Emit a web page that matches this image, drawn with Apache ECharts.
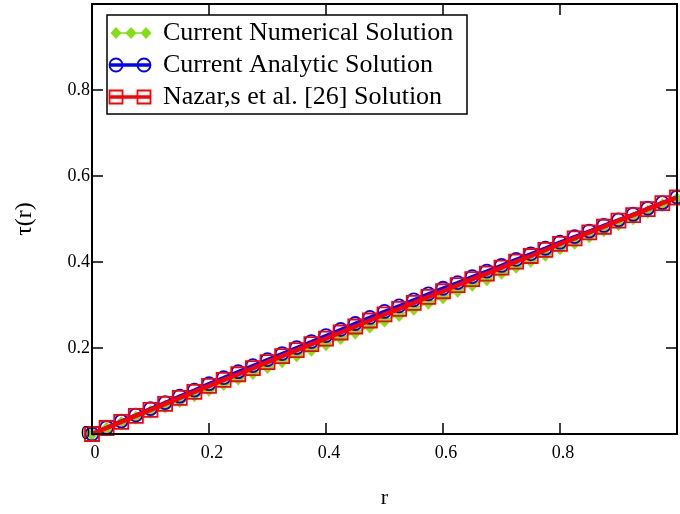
<!DOCTYPE html>
<html>
<head>
<meta charset="utf-8">
<title>τ(r)</title>
<script src="https://cdn.jsdelivr.net/npm/echarts@6/dist/echarts.min.js"></script>
<style>
  html, body { margin: 0; padding: 0; background: #fff; }
  #chart { width: 680px; height: 514px; }
</style>
</head>
<body>
<div id="chart"></div>
<script>
// Radial positions r (step 0.025)
const rValues = [0, 0.025, 0.05, 0.075, 0.1, 0.125, 0.15, 0.175, 0.2, 0.225, 0.25, 0.275, 0.3, 0.325, 0.35, 0.375, 0.4, 0.425, 0.45, 0.475, 0.5, 0.525, 0.55, 0.575, 0.6, 0.625, 0.65, 0.675, 0.7, 0.725, 0.75, 0.775, 0.8, 0.825, 0.85, 0.875, 0.9, 0.925, 0.95, 0.975, 1];

// τ(r) – current numerical solution
const numerical = [0, 0.012, 0.025, 0.038, 0.051, 0.064, 0.077, 0.090, 0.103, 0.116, 0.129, 0.142, 0.156, 0.169, 0.183, 0.196, 0.209, 0.223, 0.236, 0.250, 0.264, 0.277, 0.291, 0.305, 0.318, 0.333, 0.347, 0.360, 0.375, 0.389, 0.403, 0.417, 0.432, 0.445, 0.460, 0.474, 0.488, 0.502, 0.517, 0.532, 0.546];

// τ(r) – current analytic solution
const analytic = [0, 0.015, 0.030, 0.044, 0.059, 0.073, 0.088, 0.102, 0.117, 0.131, 0.145, 0.159, 0.173, 0.187, 0.201, 0.215, 0.229, 0.243, 0.257, 0.271, 0.285, 0.298, 0.312, 0.326, 0.339, 0.352, 0.366, 0.379, 0.392, 0.406, 0.419, 0.432, 0.446, 0.459, 0.472, 0.485, 0.498, 0.511, 0.525, 0.538, 0.551];

// τ(r) – Nazar's et al. [26] solution
const nazar = [0, 0.014, 0.028, 0.042, 0.056, 0.070, 0.084, 0.098, 0.112, 0.126, 0.139, 0.153, 0.167, 0.181, 0.195, 0.209, 0.222, 0.236, 0.250, 0.264, 0.278, 0.291, 0.305, 0.319, 0.332, 0.346, 0.360, 0.373, 0.387, 0.401, 0.414, 0.428, 0.442, 0.455, 0.469, 0.482, 0.496, 0.509, 0.523, 0.537, 0.550];

const seriesNames = ['Current Numerical Solution', 'Current Analytic Solution', 'Nazar,s et al. [26] Solution'];
const xTicks = [0, 0.2, 0.4, 0.6, 0.8];
const yTicks = [0, 0.2, 0.4, 0.6, 0.8];

const FONT = 'Liberation Serif';
const GREEN = '#80e010';
const BLUE = '#0000ff';
const RED = '#ff0000';

const pairs = (ys) => rValues.map((r, i) => [r, ys[i]]);
const tickFmt = (list) => (v) => {
  const hit = list.find(t => Math.abs(t - v) < 1e-9);
  return hit === undefined ? '' : String(+hit.toFixed(2));
};

const chart = echarts.init(document.getElementById('chart'), null, { renderer: 'canvas' });

const axisLine = { show: true, onZero: false, lineStyle: { color: '#000', width: 2 } };
const axisTick = { show: true, inside: true, length: 11, lineStyle: { color: '#000', width: 1.5 } };

// Legend box, drawn as graphic elements
const LX = 107, LY = 15, LW = 360, LH = 99;
const rows = [33, 65, 97];
const legendGraphics = [
  { type: 'rect', shape: { x: LX, y: LY, width: LW, height: LH },
    style: { fill: '#fff', stroke: '#000', lineWidth: 1.5 }, z: 100 },
  // numerical: three diamonds on a thin line
  { type: 'line', shape: { x1: 112, y1: rows[0], x2: 150, y2: rows[0] },
    style: { stroke: GREEN, lineWidth: 1.5 }, z: 101 },
  ...[116, 131, 146].map(cx => ({
    type: 'polygon',
    shape: { points: [[cx, rows[0] - 6], [cx + 5.5, rows[0]], [cx, rows[0] + 6], [cx - 5.5, rows[0]]] },
    style: { fill: GREEN }, z: 102
  })),
  // analytic: line with two circles
  { type: 'line', shape: { x1: 109, y1: rows[1], x2: 151, y2: rows[1] },
    style: { stroke: BLUE, lineWidth: 3.5 }, z: 101 },
  ...[116, 144].map(cx => ({
    type: 'circle', shape: { cx: cx, cy: rows[1], r: 6.5 },
    style: { fill: 'none', stroke: BLUE, lineWidth: 1.8 }, z: 102
  })),
  // Nazar: line with two squares
  { type: 'line', shape: { x1: 109, y1: rows[2], x2: 151, y2: rows[2] },
    style: { stroke: RED, lineWidth: 3.5 }, z: 101 },
  ...[116, 144].map(cx => ({
    type: 'rect', shape: { x: cx - 6.5, y: rows[2] - 6.5, width: 13, height: 13 },
    style: { fill: 'none', stroke: RED, lineWidth: 1.8 }, z: 102
  })),
  ...seriesNames.map((name, i) => ({
    type: 'text', x: 163, y: rows[i],
    style: { text: name, fill: '#000', font: '26px "' + FONT + '"', textVerticalAlign: 'middle', textAlign: 'left' },
    z: 102
  }))
];

const option = {
  backgroundColor: '#fff',
  animation: false,
  textStyle: { fontFamily: FONT },
  grid: { left: 92, right: 3, top: 4, bottom: 80, containLabel: false },
  xAxis: [
    {
      type: 'value', position: 'bottom', min: 0, max: 1, interval: 0.2, z: 10,
      name: 'r', nameLocation: 'middle', nameGap: 53,
      nameTextStyle: { fontFamily: FONT, fontSize: 22, color: '#000' },
      axisLine: axisLine, axisTick: axisTick, splitLine: { show: false },
      axisLabel: { show: true, margin: 10, color: '#000', fontFamily: FONT, fontSize: 18,
        showMaxLabel: false, padding: [0, 0, 0, 6], formatter: tickFmt(xTicks) }
    },
    {
      type: 'value', position: 'top', min: 0, max: 1, interval: 0.2, z: 10,
      axisLine: axisLine, axisTick: axisTick, splitLine: { show: false }, axisLabel: { show: false }
    }
  ],
  yAxis: [
    {
      type: 'value', position: 'left', min: 0, max: 1, interval: 0.2, z: 10,
      name: 'τ(r)', nameLocation: 'middle', nameGap: 55, nameRotate: 90,
      nameTextStyle: { fontFamily: FONT, fontSize: 24, color: '#000' },
      axisLine: axisLine, axisTick: axisTick, splitLine: { show: false },
      axisLabel: { show: true, margin: 2, color: '#000', fontFamily: FONT, fontSize: 18,
        showMaxLabel: false, formatter: tickFmt(yTicks) }
    },
    {
      type: 'value', position: 'right', min: 0, max: 1, interval: 0.2, z: 10,
      axisLine: axisLine, axisTick: axisTick, splitLine: { show: false }, axisLabel: { show: false }
    }
  ],
  series: [
    {
      name: seriesNames[0], type: 'line', data: pairs(numerical),
      symbol: 'diamond', symbolSize: [13, 14], showAllSymbol: true,
      lineStyle: { color: GREEN, width: 1.5 },
      itemStyle: { color: GREEN, borderWidth: 0 }, z: 2
    },
    {
      name: seriesNames[1], type: 'line', data: pairs(analytic),
      symbol: 'circle', symbolSize: 13, showAllSymbol: true,
      lineStyle: { color: BLUE, width: 3.5 },
      itemStyle: { color: 'rgba(255,255,255,0)', borderColor: BLUE, borderWidth: 1.8 }, z: 3
    },
    {
      name: seriesNames[2], type: 'line', data: pairs(nazar),
      symbol: 'rect', symbolSize: 14, showAllSymbol: true,
      lineStyle: { color: RED, width: 4.5 },
      itemStyle: { color: 'rgba(255,255,255,0)', borderColor: RED, borderWidth: 1.8 }, z: 4
    }
  ],
  graphic: legendGraphics
};

chart.setOption(option);
</script>
</body>
</html>
